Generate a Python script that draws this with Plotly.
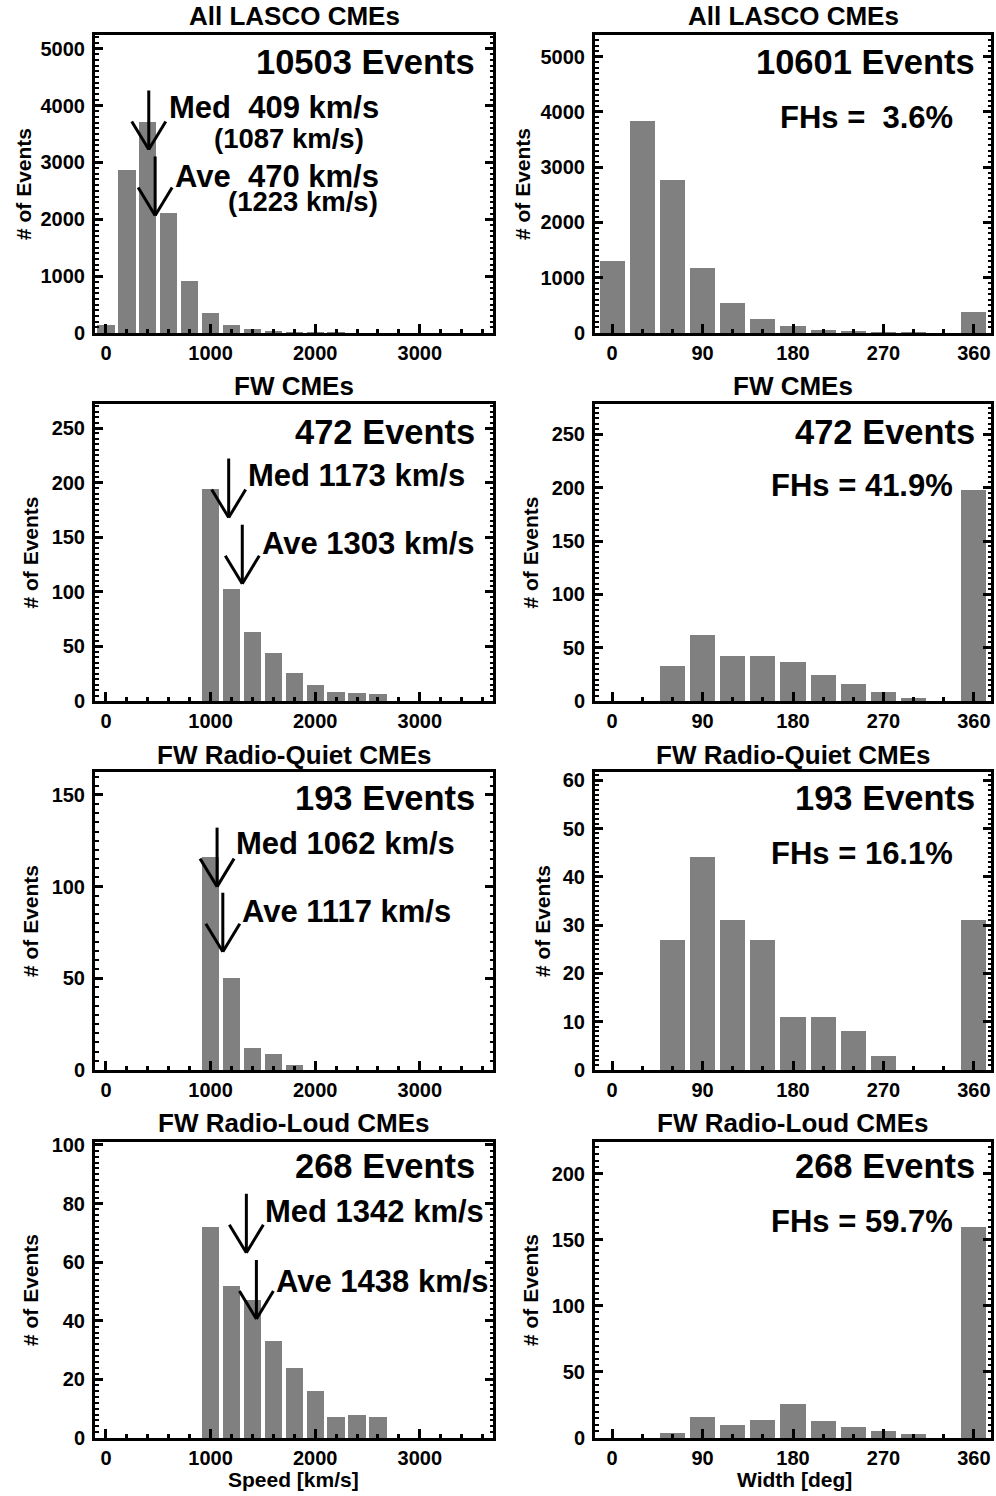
import plotly.graph_objects as go

W, H = 996, 1496

# ---------------- data ----------------
panel_titles = ["All LASCO CMEs", "FW CMEs", "FW Radio-Quiet CMEs", "FW Radio-Loud CMEs"]

speed_bins_all = [0, 200, 400, 600, 800, 1000, 1200, 1400, 1600, 1800, 2000, 2200]
speed_counts_all = [133, 2875, 3719, 2102, 907, 344, 133, 63, 28, 12, 6, 3]

speed_bins_fw = [1000, 1200, 1400, 1600, 1800, 2000, 2200, 2400, 2600]
speed_counts_fw = [194, 103, 63, 44, 26, 15, 8, 7, 6]

speed_bins_rq = [1000, 1200, 1400, 1600, 1800]
speed_counts_rq = [116, 50, 12, 9, 3]

speed_bins_rl = [1000, 1200, 1400, 1600, 1800, 2000, 2200, 2400, 2600]
speed_counts_rl = [72, 52, 47, 33, 24, 16, 7, 8, 7]

width_bins = [0, 30, 60, 90, 120, 150, 180, 210, 240, 270, 300, 330, 360]
width_counts_all = [1300, 3840, 2770, 1170, 540, 260, 120, 55, 30, 10, 5, 0, 382]
width_counts_fw = [0, 0, 33, 62, 42, 42, 37, 24, 16, 8, 3, 0, 198]
width_counts_rq = [0, 0, 27, 44, 31, 27, 11, 11, 8, 3, 0, 0, 31]
width_counts_rl = [0, 0, 4, 16, 10, 14, 26, 13, 8, 5, 3, 0, 160]

speed_events = [10503, 472, 193, 268]
width_events = [10601, 472, 193, 268]
fh_percent = ["\u00a03.6", "41.9", "16.1", "59.7"]
median_speed = [409, 1173, 1062, 1342]
average_speed = [470, 1303, 1117, 1438]
median_speed_fw_only = 1087
average_speed_fw_only = 1223

speed_ticks = [0, 1000, 2000, 3000]
width_ticks = [0, 90, 180, 270, 360]

# ---------------- layout helpers ----------------
speed_series = [(speed_bins_all, speed_counts_all), (speed_bins_fw, speed_counts_fw),
                (speed_bins_rq, speed_counts_rq), (speed_bins_rl, speed_counts_rl)]
width_series = [width_counts_all, width_counts_fw, width_counts_rq, width_counts_rl]

speed_yrange = [5240, 272, 162.5, 101]
speed_dtick = [1000, 50, 50, 20]
width_yrange = [5390, 278.5, 61.7, 224]
width_dtick = [1000, 50, 10, 50]

# arrow tip heights (data units) for the median / average markers
med_tip = [3227, 168, 100, 63.2]
ave_tip = [2067, 107.4, 64.5, 40.6]

row_top = [35, 404, 772, 1142]
row_bot = [333, 701, 1070, 1438]
col_left = [95, 595]
col_right = [493, 991]

FONT = "Liberation Sans, Arial, Helvetica, sans-serif"


def px(x):
    return x / W


def py(y):
    return 1 - y / H


fig = go.Figure()
annotations = []
shapes = []
layout = dict(
    template="none",
    width=W, height=H, margin=dict(l=0, r=0, t=0, b=0, pad=0, autoexpand=False),
    autosize=False,
    paper_bgcolor="white", plot_bgcolor="white", showlegend=False,
    bargap=0,
    font=dict(family=FONT, color="black"),
)

for r in range(4):
    for c in range(2):
        n = 2 * r + c + 1
        xa = "xaxis" if n == 1 else f"xaxis{n}"
        ya = "yaxis" if n == 1 else f"yaxis{n}"
        xr = "x" if n == 1 else f"x{n}"
        yr = "y" if n == 1 else f"y{n}"
        if c == 0:
            bins, counts = speed_series[r]
            bw = 165
            xrange_ = [-105, 3700]
            xticks = speed_ticks
            xminor = 200
            yrng = speed_yrange[r]
            ydt = speed_dtick[r]
        else:
            bins, counts = width_bins, width_series[r]
            bw = 25
            xrange_ = [-17, 377]
            xticks = width_ticks
            xminor = 30
            yrng = width_yrange[r]
            ydt = width_dtick[r]

        fig.add_trace(go.Bar(x=bins, y=counts, width=bw, marker=dict(color="#808080", line=dict(width=0)),
                             xaxis=xr, yaxis=yr, hoverinfo="skip"))

        tickfont = dict(family=FONT, size=20, color="black", weight="bold")
        layout[xa] = dict(
            domain=[px(col_left[c]), px(col_right[c])], anchor=yr, range=xrange_, automargin=False,
            showgrid=False, zeroline=False, showline=True, linewidth=3, linecolor="black", mirror=True,
            ticks="inside", ticklen=9, tickwidth=3, tickcolor="black",
            tickvals=xticks, ticktext=[str(v) for v in xticks], tickfont=tickfont,
            ticklabelstandoff=0,
            minor=dict(ticks="inside", ticklen=4, tickwidth=2.5, tickcolor="black", dtick=xminor, tick0=0),
            fixedrange=True,
        )
        layout[ya] = dict(
            domain=[py(row_bot[r]), py(row_top[r])], anchor=xr, range=[0, yrng], automargin=False,
            showgrid=False, zeroline=False, showline=True, linewidth=3, linecolor="black", mirror="ticks",
            ticks="inside", ticklen=8, tickwidth=3, tickcolor="black",
            dtick=ydt, tick0=0, tickfont=tickfont, ticklabelstandoff=3,
            minor=dict(ticks="inside", ticklen=3.5, tickwidth=2, tickcolor="black", dtick=ydt / 10, tick0=0),
            fixedrange=True,
        )

        # panel title
        annotations.append(dict(
            text=f"<b>{panel_titles[r]}</b>", x=px((col_left[c] + col_right[c]) / 2),
            y=py([16, 386, 755, 1123][r]), xref="paper", yref="paper",
            xanchor="center", yanchor="middle", showarrow=False,
            font=dict(family=FONT, size=26, color="black")))
        # y-axis title
        ytx = [[23, 522], [30, 530], [30, 542], [30, 530]][r][c]
        annotations.append(dict(
            text="<b># of Events</b>", x=px(ytx), y=py((row_top[r] + row_bot[r]) / 2),
            xref="paper", yref="paper", xanchor="center", yanchor="middle", textangle=-90,
            showarrow=False, font=dict(family=FONT, size=21, color="black")))
        # event count
        ev = speed_events[r] if c == 0 else width_events[r]
        ey = [62.5, 431.7, 797.5, 1165.8][r]
        annotations.append(dict(
            text=f"<b>{ev} Events</b>", x=px([476.5, 976.5][c]), y=py(ey),
            xref="paper", yref="paper", xanchor="right", yanchor="middle", showarrow=False,
            font=dict(family=FONT, size=34.5, color="black")))

        if c == 1:
            fy = [117.5, 485, 853.3, 1221.7][r]
            annotations.append(dict(
                text=f"<b>FHs = {fh_percent[r]}%</b>", x=px(955), y=py(fy),
                xref="paper", yref="paper", xanchor="right", yanchor="middle", showarrow=False,
                font=dict(family=FONT, size=31, color="black")))
        else:
            sp = "\u00a0\u00a0" if r == 0 else " "
            med_xy = [(166.5, 107.5), (245.5, 475), (234, 843.3), (263, 1211.7)][r]
            ave_xy = [(173, 176.7), (259.7, 543.3), (239.7, 911.7), (274, 1281.7)][r]
            annotations.append(dict(
                text=f"<b>Med{sp}{median_speed[r]} km/s</b>", x=px(med_xy[0]), y=py(med_xy[1]),
                xref="paper", yref="paper", xanchor="left", yanchor="middle", showarrow=False,
                font=dict(family=FONT, size=31, color="black")))
            annotations.append(dict(
                text=f"<b>Ave{sp}{average_speed[r]} km/s</b>", x=px(ave_xy[0]), y=py(ave_xy[1]),
                xref="paper", yref="paper", xanchor="left", yanchor="middle", showarrow=False,
                font=dict(family=FONT, size=31, color="black")))
            if r == 0:
                annotations.append(dict(
                    text=f"<b>({median_speed_fw_only} km/s)</b>", x=px(289), y=py(138),
                    xref="paper", yref="paper", xanchor="center", yanchor="middle", showarrow=False,
                    font=dict(family=FONT, size=27.5, color="black")))
                annotations.append(dict(
                    text=f"<b>({average_speed_fw_only} km/s)</b>", x=px(303), y=py(201),
                    xref="paper", yref="paper", xanchor="center", yanchor="middle", showarrow=False,
                    font=dict(family=FONT, size=27.5, color="black")))
            # arrows (shaft + open V head), sized in pixels, anchored at the tip
            for xv, tip in ((median_speed[r], med_tip[r]), (average_speed[r], ave_tip[r])):
                for (x0, y0) in ((0, 59), (-17, 28), (17, 28)):
                    shapes.append(dict(
                        type="line", xref=xr, yref=yr, xsizemode="pixel", ysizemode="pixel",
                        xanchor=xv, yanchor=tip, x0=x0, y0=y0, x1=0, y1=0,
                        line=dict(color="black", width=3)))

# x-axis titles
annotations.append(dict(text="<b>Speed [km/s]</b>", x=px(293), y=py(1479), xref="paper", yref="paper",
                        xanchor="center", yanchor="middle", showarrow=False,
                        font=dict(family=FONT, size=21, color="black")))
annotations.append(dict(text="<b>Width [deg]</b>", x=px(794), y=py(1479), xref="paper", yref="paper",
                        xanchor="center", yanchor="middle", showarrow=False,
                        font=dict(family=FONT, size=21, color="black")))

layout["annotations"] = annotations
layout["shapes"] = shapes
fig.update_layout(**layout)
fig.write_html("out.html", post_script="document.body.style.margin='0';document.body.style.padding='0';")
